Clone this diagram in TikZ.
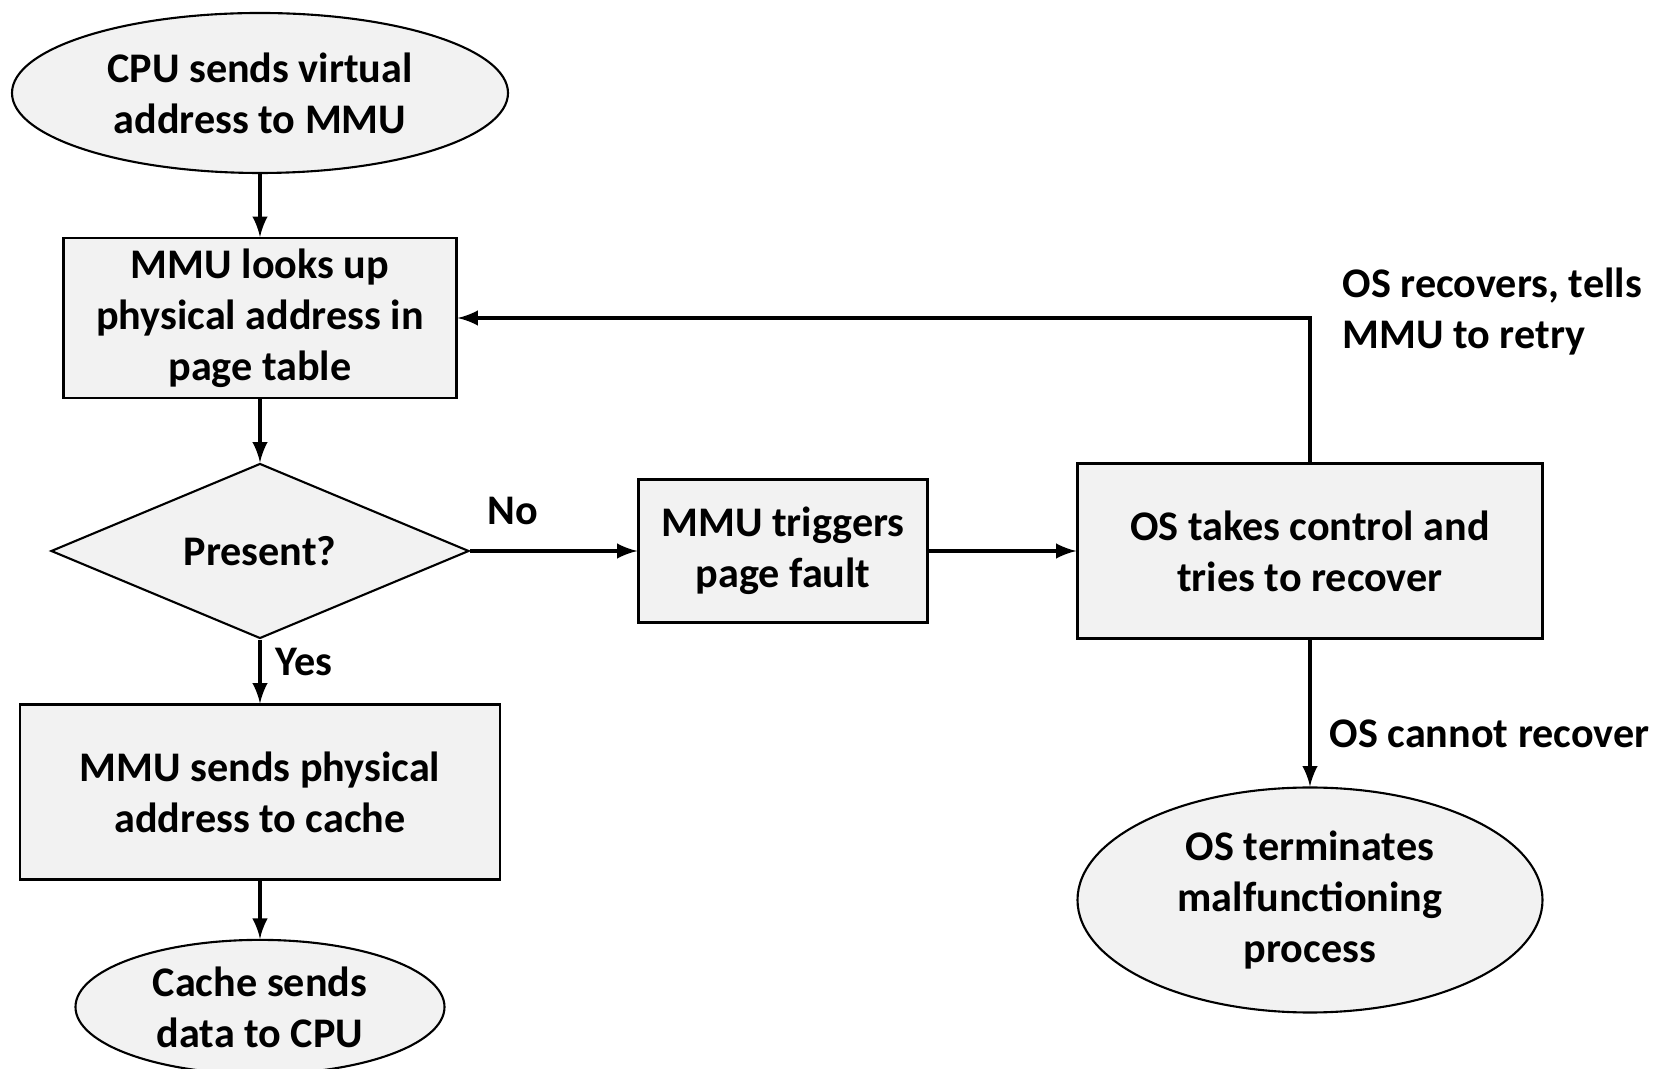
\documentclass[tikz,border=0pt]{standalone}
\usepackage{fontspec}
\setmainfont{Carlito}
\usepackage{xcolor}
\usetikzlibrary{arrows}
\usetikzlibrary{shapes.geometric}
\usetikzlibrary{positioning}

\definecolor{boxgray}{HTML}{F2F2F2}

\begin{document}
\begin{tikzpicture}[font=\fontsize{12pt}{14.5pt}\selectfont\bfseries]
	%\draw[help lines] (0,-11) grid (17,0);
	\useasboundingbox (0,0) rectangle (16.57,-10.69);
	
	\tikzstyle{fnode} = [draw,line width=0.6pt,fill=boxgray,align=center,inner sep=2pt]
	\tikzstyle{fbox} = [fnode,rectangle]
	\tikzstyle{fterm} = [fnode,ellipse]
	\tikzstyle{fdec} = [fnode,diamond,aspect=2.4,inner sep=0pt]
	\tikzstyle{fedge} = [->,>=latex,line width=1pt]
	\tikzstyle{flabel} = [inner sep=0pt,align=left]
	
	\node[fterm,minimum width=4.96cm,minimum height=1.60cm] (cpu) at (2.60,-0.93) {CPU sends virtual\\address to MMU};
	\node[fbox,minimum width=3.93cm,minimum height=1.60cm] (lookup) at (2.60,-3.18) {MMU looks up\\physical address in\\page table};
	\node[fdec,minimum width=4.18cm,minimum height=1.75cm] (present) at (2.60,-5.51) {Present?};
	\node[fbox,minimum width=2.89cm,minimum height=1.43cm] (fault) at (7.83,-5.51) {MMU triggers\\page fault};
	\node[fbox,minimum width=4.65cm,minimum height=1.75cm] (os) at (13.10,-5.51) {OS takes control and\\tries to recover};
	\node[fbox,minimum width=4.80cm,minimum height=1.75cm] (send) at (2.60,-7.92) {MMU sends physical\\address to cache};
	\node[fterm,minimum width=3.69cm,minimum height=1.27cm] (cache) at (2.60,-10.07) {Cache sends\\data to CPU};
	\node[fterm,minimum width=4.65cm,minimum height=2.25cm] (term) at (13.10,-9.00) {OS terminates\\malfunctioning\\process};
	
	\node[flabel] (no) at (5.13,-5.11) {No};
	\node[flabel] (yes) at (3.04,-6.62) {Yes};
	\node[flabel,anchor=west] (retry) at (13.42,-3.12) {OS recovers, tells\\MMU to retry};
	\node[flabel,anchor=west] (fail) at (13.29,-7.34) {OS cannot recover};
	
	\draw (cpu) edge [fedge] (lookup);
	\draw (lookup) edge [fedge] (present);
	\draw (present) edge [fedge] (fault);
	\draw (present) edge [fedge] (send);
	\draw (send) edge [fedge] (cache);
	\draw (fault) edge [fedge] (os);
	\draw (os) edge [fedge] (term);
	\draw[fedge] (os.north) |- (lookup.east);

\end{tikzpicture}
\end{document}
